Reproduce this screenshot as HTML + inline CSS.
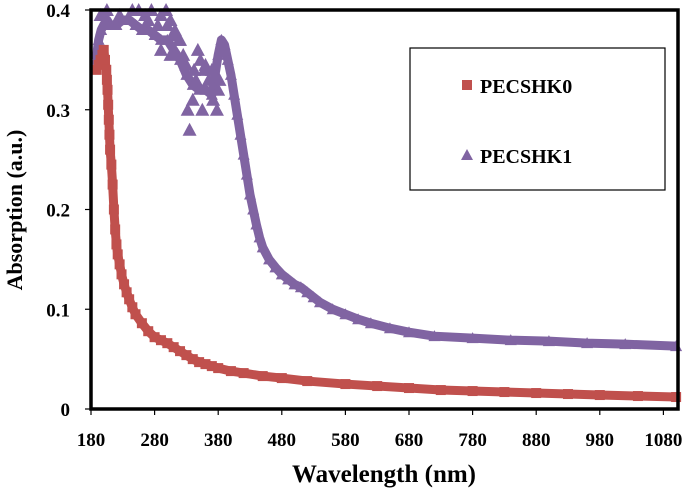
<!DOCTYPE html>
<html><head><meta charset="utf-8"><style>
body{margin:0;background:#fff}
svg{display:block;font-family:"Liberation Serif",serif;font-weight:bold}
</style></head><body>
<svg id="chart" width="685" height="494" viewBox="0 0 685 494" xmlns="http://www.w3.org/2000/svg">
<g id="marks"></g>
<rect x="91" y="10" width="587" height="399" fill="none" stroke="#000" stroke-width="3.5"/>
<g id="axes"></g>
<text x="384" y="482" font-size="25" text-anchor="middle">Wavelength (nm)</text>
<text transform="translate(22,210) rotate(-90)" font-size="22" text-anchor="middle">Absorption  (a.u.)</text>
<g>
<rect x="410" y="48" width="255" height="142" fill="#fff" stroke="#000" stroke-width="1.2"/>
<rect x="462" y="80" width="10" height="10" fill="#c0504d"/>
<text x="480" y="93" font-size="20">PECSHK0</text>
<polygon points="467,149 473,160 461,160" fill="#8064a2"/>
<text x="480" y="163" font-size="20">PECSHK1</text>
</g>
</svg>
<script>
const xTicks=[180,280,380,480,580,680,780,880,980,1080];
const yTicks=[0,0.1,0.2,0.3,0.4];
const yTickLabels=["0","0.1","0.2","0.3","0.4"];
const wl0=[188,192,195,198,200,202,204,205,206,207,208,209,210,212,214,216,218,220,222,225,228,232,236,240,245,250,260,270,280,290,300,310,320,330,340,350,360,370,380,400,420,450,480,520,580,630,680,730,780,830,880,930,980,1040,1100];
const abs0=[0.34,0.345,0.35,0.355,0.36,0.35,0.34,0.33,0.32,0.305,0.29,0.275,0.26,0.245,0.225,0.2,0.18,0.165,0.155,0.145,0.135,0.125,0.117,0.11,0.102,0.095,0.086,0.078,0.072,0.069,0.066,0.062,0.058,0.054,0.05,0.047,0.045,0.043,0.041,0.038,0.036,0.033,0.031,0.028,0.025,0.023,0.021,0.019,0.018,0.017,0.016,0.015,0.014,0.013,0.012];
const wl1=[188,192,196,200,205,210,220,230,240,250,260,270,280,290,300,310,320,330,340,350,360,370,380,385,390,395,400,405,410,415,420,425,430,435,440,445,450,460,470,480,490,500,510,520,530,540,560,580,600,620,650,680,720,780,840,900,960,1020,1100];
const abs1=[0.35,0.37,0.38,0.385,0.39,0.385,0.385,0.39,0.39,0.385,0.38,0.38,0.375,0.37,0.37,0.36,0.35,0.335,0.325,0.32,0.32,0.315,0.355,0.37,0.365,0.35,0.335,0.315,0.295,0.275,0.255,0.235,0.215,0.2,0.185,0.172,0.162,0.15,0.142,0.135,0.13,0.125,0.122,0.117,0.112,0.107,0.1,0.095,0.09,0.086,0.081,0.077,0.073,0.071,0.069,0.068,0.066,0.065,0.063];
const noiseWl=[195,205,225,245,255,265,275,290,298,305,312,318,325,332,335,342,348,352,358,365,372,378,382,300,285,270,310,340,360,375,290,305,320,345,355,370,380,330];
const noiseAbs=[0.395,0.4,0.395,0.4,0.4,0.395,0.4,0.395,0.4,0.39,0.38,0.37,0.355,0.3,0.28,0.34,0.36,0.35,0.34,0.33,0.31,0.3,0.33,0.385,0.385,0.39,0.375,0.31,0.345,0.335,0.36,0.355,0.37,0.33,0.3,0.34,0.32,0.345];
const X=v=>91+(v-180)*63.6/100;
const Y=v=>409-v*997.5;
const NS="http://www.w3.org/2000/svg";
const axes=document.getElementById('axes'),marks=document.getElementById('marks');
function mk(tag,attrs,parent){const e=document.createElementNS(NS,tag);for(const k in attrs)e.setAttribute(k,attrs[k]);parent.appendChild(e);return e;}
xTicks.forEach(t=>{
  const l=mk('line',{x1:X(t),x2:X(t),y1:409,y2:415,stroke:'#000','stroke-width':1.2},axes);
  
  
  const tx=mk('text',{x:X(t),y:446,'font-size':19,'text-anchor':'middle'},axes);
  tx.textContent=t;
  
  
});
yTicks.forEach((t,i)=>{
  const l=mk('line',{x1:85,x2:91,y1:Y(t),y2:Y(t),stroke:'#000','stroke-width':1.2},axes);
  
  
  const tx=mk('text',{x:70,y:Y(t)+7,'font-size':19,'text-anchor':'end'},axes);
  tx.textContent=yTickLabels[i];
  
  
});
function series(wl,ab,color,name,tri){
  const g=mk('g',{},marks);
  
  
  const pts=wl.map((w,i)=>X(w)+','+Y(ab[i])).join(' ');
  const pl=mk('polyline',{points:pts,fill:'none',stroke:color,'stroke-width':9,'stroke-linejoin':'round'},g);
  
  
  wl.forEach((w,i)=>{
    const x=X(w),y=Y(ab[i]);
    let m;
    if(tri) m=mk('polygon',{points:`${x},${y-6} ${x+6},${y+5} ${x-6},${y+5}`,fill:color},g);
    else m=mk('rect',{x:x-5,y:y-5,width:10,height:10,fill:color},g);
    
    
  });
  return g;
}
series(wl1,abs1,'#8064a2','pecshk1-series',true);
const ng=mk('g',{},marks);


noiseWl.forEach((w,i)=>{
  const x=X(w),y=Y(noiseAbs[i]);
  const m=mk('polygon',{points:`${x},${y-7} ${x+7},${y+6} ${x-7},${y+6}`,fill:'#8064a2'},ng);
  
  
});
series(wl0,abs0,'#c0504d','pecshk0-series',false);
</script>
</body></html>
